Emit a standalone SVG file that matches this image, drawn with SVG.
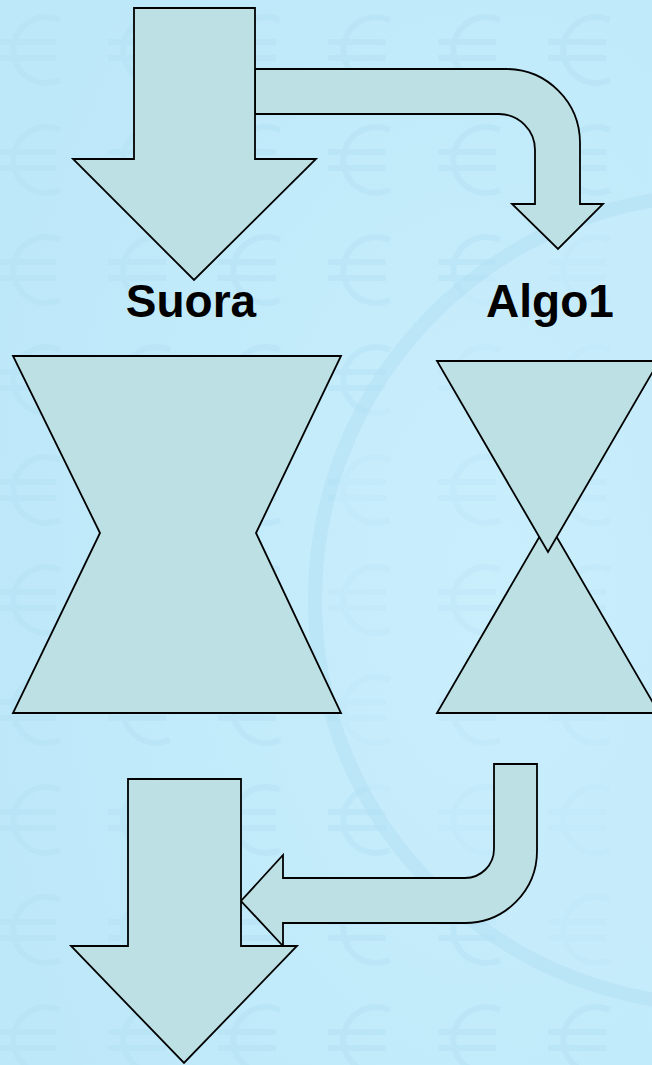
<svg xmlns="http://www.w3.org/2000/svg" width="652" height="1065" viewBox="0 0 652 1065">
  <defs>
    <pattern id="euro" x="-20" y="-10" width="110" height="110" patternUnits="userSpaceOnUse">
      <path d="M80,30 A33,33 0 1 0 80,90" fill="none" stroke="#AEDDF1" stroke-width="6"/>
      <path d="M18,52 H76 M18,68 H76" fill="none" stroke="#AEDDF1" stroke-width="6"/>
    </pattern>
    <radialGradient id="bg" cx="0.75" cy="0.55" r="0.8">
      <stop offset="0" stop-color="#C8EEFC"/>
      <stop offset="1" stop-color="#BDE8F9"/>
    </radialGradient>
  </defs>
  <style>
    .shape { fill: #BCE0E3; stroke: #000; stroke-width: 1.8; stroke-linejoin: miter; }
    .label { font-family: "Liberation Sans", Arial, sans-serif; font-weight: bold; font-size: 46px; fill: #000; text-anchor: middle; }
  </style>
  <g id="background">
    <rect width="652" height="1065" fill="url(#bg)"/>
    <rect width="652" height="1065" fill="url(#euro)" opacity="0.35"/>
    <circle cx="720" cy="600" r="400" fill="#C9EEFC" opacity="0.45"/>
    <circle cx="720" cy="600" r="405" fill="none" stroke="#B2E0F4" stroke-width="14" opacity="0.5"/>
  </g>
  <g id="connectors">
    <path id="bent-top" class="shape" d="M255,69 H506 A74,74 0 0 1 580,143 V204 H603 L558,249 L512,204 H535 V150 A36,36 0 0 0 499,114 H255 Z"/>
    <path id="bent-bottom" class="shape" d="M494,764 H537 V851 A72,72 0 0 1 465,923 H283 V946 L241,901 L283,855 V878 H465 A29,29 0 0 0 494,849 Z"/>
  </g>
  <g id="arrow-top">
    <polygon class="shape" points="134,8 255,8 255,159 316,159 194,280 73,159 134,159"/>
  </g>
  <g id="label-suora">
    <text class="label" x="191" y="317">Suora</text>
  </g>
  <g id="label-algo1">
    <text class="label" x="550" y="317">Algo1</text>
  </g>
  <g id="hourglass-left">
    <polygon class="shape" points="13,356 341,356 256,533 341,713 13,713 100,533"/>
  </g>
  <g id="hourglass-right">
    <polygon class="shape" points="437,713 659,713 548,522"/>
    <polygon class="shape" points="437,361 659,361 548,552"/>
  </g>
  <g id="arrow-bottom">
    <polygon class="shape" points="128,779 241,779 241,946 297,946 184,1063 71,946 128,946"/>
  </g>
</svg>
